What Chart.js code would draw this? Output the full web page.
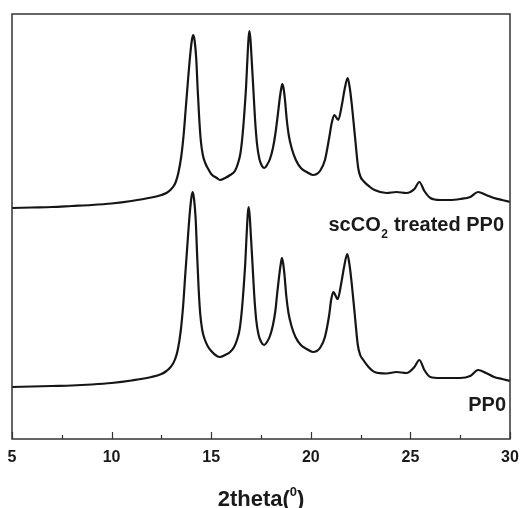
<!DOCTYPE html>
<html>
<head>
<meta charset="utf-8">
<script src="https://cdn.jsdelivr.net/npm/chart.js@4.4.1/dist/chart.umd.min.js"></script>
<style>
  html, body { margin: 0; padding: 0; background: #fff; }
  #wrap { width: 521px; height: 508px; position: relative; }
</style>
</head>
<body>
<div id="wrap"><canvas id="xrd"></canvas></div>
<script>
// XRD patterns, intensity in arbitrary units (upper curve is offset)
const treatedX = [5, 6, 7, 8, 9, 10, 11, 12, 12.5, 12.75, 12.95, 13.1, 13.22, 13.35, 13.5, 13.62, 13.72, 13.82, 13.95, 14.04, 14.1, 14.17, 14.25, 14.32, 14.4, 14.48, 14.58, 14.7, 14.85, 15.0, 15.28, 15.44, 15.7, 15.95, 16.19, 16.35, 16.47, 16.57, 16.66, 16.75, 16.83, 16.88, 16.92, 16.97, 17.03, 17.11, 17.2, 17.3, 17.42, 17.55, 17.67, 17.8, 17.95, 18.1, 18.22, 18.33, 18.45, 18.52, 18.57, 18.63, 18.7, 18.79, 18.9, 19.05, 19.25, 19.5, 19.8, 20.1, 20.3, 20.46, 20.71, 20.93, 21.05, 21.18, 21.38, 21.55, 21.7, 21.85, 21.95, 22.05, 22.22, 22.38, 22.5, 22.64, 22.97, 23.2, 23.8, 24.3, 24.8, 25.2, 25.45, 25.7, 26.0, 26.5, 27.0, 27.5, 28.0, 28.4, 28.8, 29.2, 29.6, 30.0];
const treatedY = [231, 231.5, 232, 233, 234, 235.5, 238, 241.5, 244, 246, 249, 252.5, 257, 266, 283, 305, 330, 355, 385, 400, 404, 398, 380, 350, 320, 298, 284, 276, 270, 265, 261, 259, 261, 264, 268, 276, 286, 303, 325, 352, 385, 402, 408, 400, 380, 352, 320, 295, 280, 273, 271, 274, 280, 291, 305, 322, 342, 351, 355, 351, 340, 320, 303, 290, 279, 271, 267, 264, 265, 268, 279, 302, 316, 324, 319, 333, 350, 361, 352, 336, 302, 271, 262, 258, 252, 249, 246, 247, 246, 250, 257, 248, 241, 239, 239, 240, 242, 247, 244, 241, 239, 237];

const pp0X = [5, 6, 7, 8, 9, 10, 11, 12, 12.5, 12.72, 12.92, 13.07, 13.19, 13.32, 13.47, 13.59, 13.69, 13.79, 13.92, 14.01, 14.07, 14.14, 14.22, 14.29, 14.37, 14.45, 14.55, 14.67, 14.82, 15.0, 15.28, 15.44, 15.7, 15.95, 16.15, 16.31, 16.43, 16.53, 16.62, 16.71, 16.79, 16.84, 16.88, 16.93, 16.99, 17.07, 17.16, 17.26, 17.38, 17.51, 17.65, 17.8, 17.95, 18.1, 18.22, 18.31, 18.43, 18.5, 18.55, 18.61, 18.68, 18.77, 18.88, 19.03, 19.23, 19.5, 19.8, 20.1, 20.3, 20.46, 20.71, 20.93, 21.02, 21.13, 21.35, 21.53, 21.68, 21.83, 21.93, 22.03, 22.2, 22.36, 22.48, 22.6, 22.9, 23.2, 23.8, 24.3, 24.8, 25.2, 25.45, 25.7, 26.0, 26.5, 27.0, 27.5, 28.0, 28.4, 28.8, 29.2, 29.6, 30.0];
const pp0Y = [52, 52.5, 53, 53.5, 54.5, 56, 58.5, 62, 65, 67.5, 71, 75, 80, 89, 108, 133, 162, 190, 225, 242, 247, 240, 220, 186, 150, 125, 109, 100, 93, 88, 83, 82, 84, 87, 92, 100, 110, 127, 149, 176, 209, 226, 232, 224, 204, 176, 144, 119, 104, 97, 94, 97, 103, 114, 128, 145, 166, 176, 181, 176, 164, 143, 126, 113, 102, 94, 90, 87, 88, 91, 102, 125, 139, 147, 140, 156, 173, 185, 176, 160, 126, 94, 84, 80, 72, 67, 65.5, 67, 66, 72, 79, 69, 62, 61, 61, 61, 63, 69, 66, 62, 60, 58];

const xTicks = [5, 10, 15, 20, 25, 30];
const minorTicks = [7.5, 12.5, 17.5, 22.5, 27.5];

const toPoints = (xs, ys) => xs.map((x, i) => ({ x: x, y: ys[i] }));

const FONT = '"Liberation Sans", Arial, sans-serif';

// frame, inward ticks and the text labels
const decor = {
  id: 'decor',
  afterDraw(chart) {
    const ctx = chart.ctx;
    const a = chart.chartArea;
    const xs = chart.scales.x;
    ctx.save();
    ctx.strokeStyle = '#333';
    ctx.lineWidth = 1.5;
    ctx.strokeRect(a.left, a.top, a.right - a.left, a.bottom - a.top);
    ctx.lineWidth = 1.2;
    ctx.beginPath();
    xTicks.forEach(v => {
      const p = Math.round(xs.getPixelForValue(v)) + 0.5;
      ctx.moveTo(p, a.bottom); ctx.lineTo(p, a.bottom - 7);
    });
    minorTicks.forEach(v => {
      const p = Math.round(xs.getPixelForValue(v)) + 0.5;
      ctx.moveTo(p, a.bottom); ctx.lineTo(p, a.bottom - 4);
    });
    ctx.stroke();

    ctx.fillStyle = '#1a1a1a';
    ctx.textBaseline = 'alphabetic';

    // PP0
    ctx.font = 'bold 20px ' + FONT;
    ctx.textAlign = 'right';
    ctx.fillText('PP0', 506, 411);

    // scCO2 treated PP0
    const right = 504, base = 231;
    const tail = ' treated PP0';
    ctx.font = 'bold 20px ' + FONT;
    const wTail = ctx.measureText(tail).width;
    ctx.font = 'bold 12px ' + FONT;
    const wSub = ctx.measureText('2').width;
    ctx.font = 'bold 20px ' + FONT;
    const wHead = ctx.measureText('scCO').width;
    ctx.textAlign = 'left';
    let x0 = right - wTail - wSub - wHead - 1;
    ctx.fillText('scCO', x0, base);
    ctx.font = 'bold 12px ' + FONT;
    ctx.fillText('2', x0 + wHead + 0.5, base + 7);
    ctx.font = 'bold 20px ' + FONT;
    ctx.fillText(tail, x0 + wHead + wSub + 1, base);

    // axis title 2theta(0)
    const cx = (a.left + a.right) / 2;
    ctx.font = 'bold 22px ' + FONT;
    const w1 = ctx.measureText('2theta(').width;
    const w3 = ctx.measureText(')').width;
    ctx.font = 'bold 13px ' + FONT;
    const w2 = ctx.measureText('0').width;
    let tx = cx - (w1 + w2 + w3) / 2;
    const tb = 506;
    ctx.font = 'bold 22px ' + FONT;
    ctx.fillText('2theta(', tx, tb);
    ctx.font = 'bold 13px ' + FONT;
    ctx.fillText('0', tx + w1, tb - 10);
    ctx.font = 'bold 22px ' + FONT;
    ctx.fillText(')', tx + w1 + w2, tb);
    ctx.restore();
  }
};

new Chart(document.getElementById('xrd'), {
  type: 'line',
  data: {
    datasets: [
      {
        label: 'scCO2 treated PP0',
        data: toPoints(treatedX, treatedY),
        borderColor: '#151515',
        borderWidth: 2.2,
        pointRadius: 0,
        cubicInterpolationMode: 'monotone',
        fill: false
      },
      {
        label: 'PP0',
        data: toPoints(pp0X, pp0Y),
        borderColor: '#151515',
        borderWidth: 2.2,
        pointRadius: 0,
        cubicInterpolationMode: 'monotone',
        fill: false
      }
    ]
  },
  options: {
    responsive: true,
    maintainAspectRatio: false,
    animation: false,
    layout: { padding: { left: 12, right: 11, top: 14, bottom: 0 } },
    plugins: { legend: { display: false }, tooltip: { enabled: false } },
    scales: {
      x: {
        type: 'linear',
        min: 5,
        max: 30,
        afterBuildTicks: (s) => { s.ticks = xTicks.map(v => ({ value: v })); },
        afterFit: (s) => { s.height = 69; s.paddingLeft = 0; s.paddingRight = 0; },
        grid: { display: false, drawTicks: false },
        border: { display: false },
        ticks: {
          padding: 9,
          color: '#1a1a1a',
          maxRotation: 0,
          autoSkip: false,
          font: { family: FONT, size: 16, weight: 'bold' }
        }
      },
      y: {
        display: false,
        min: 0,
        max: 425
      }
    }
  },
  plugins: [decor]
});
</script>
</body>
</html>
